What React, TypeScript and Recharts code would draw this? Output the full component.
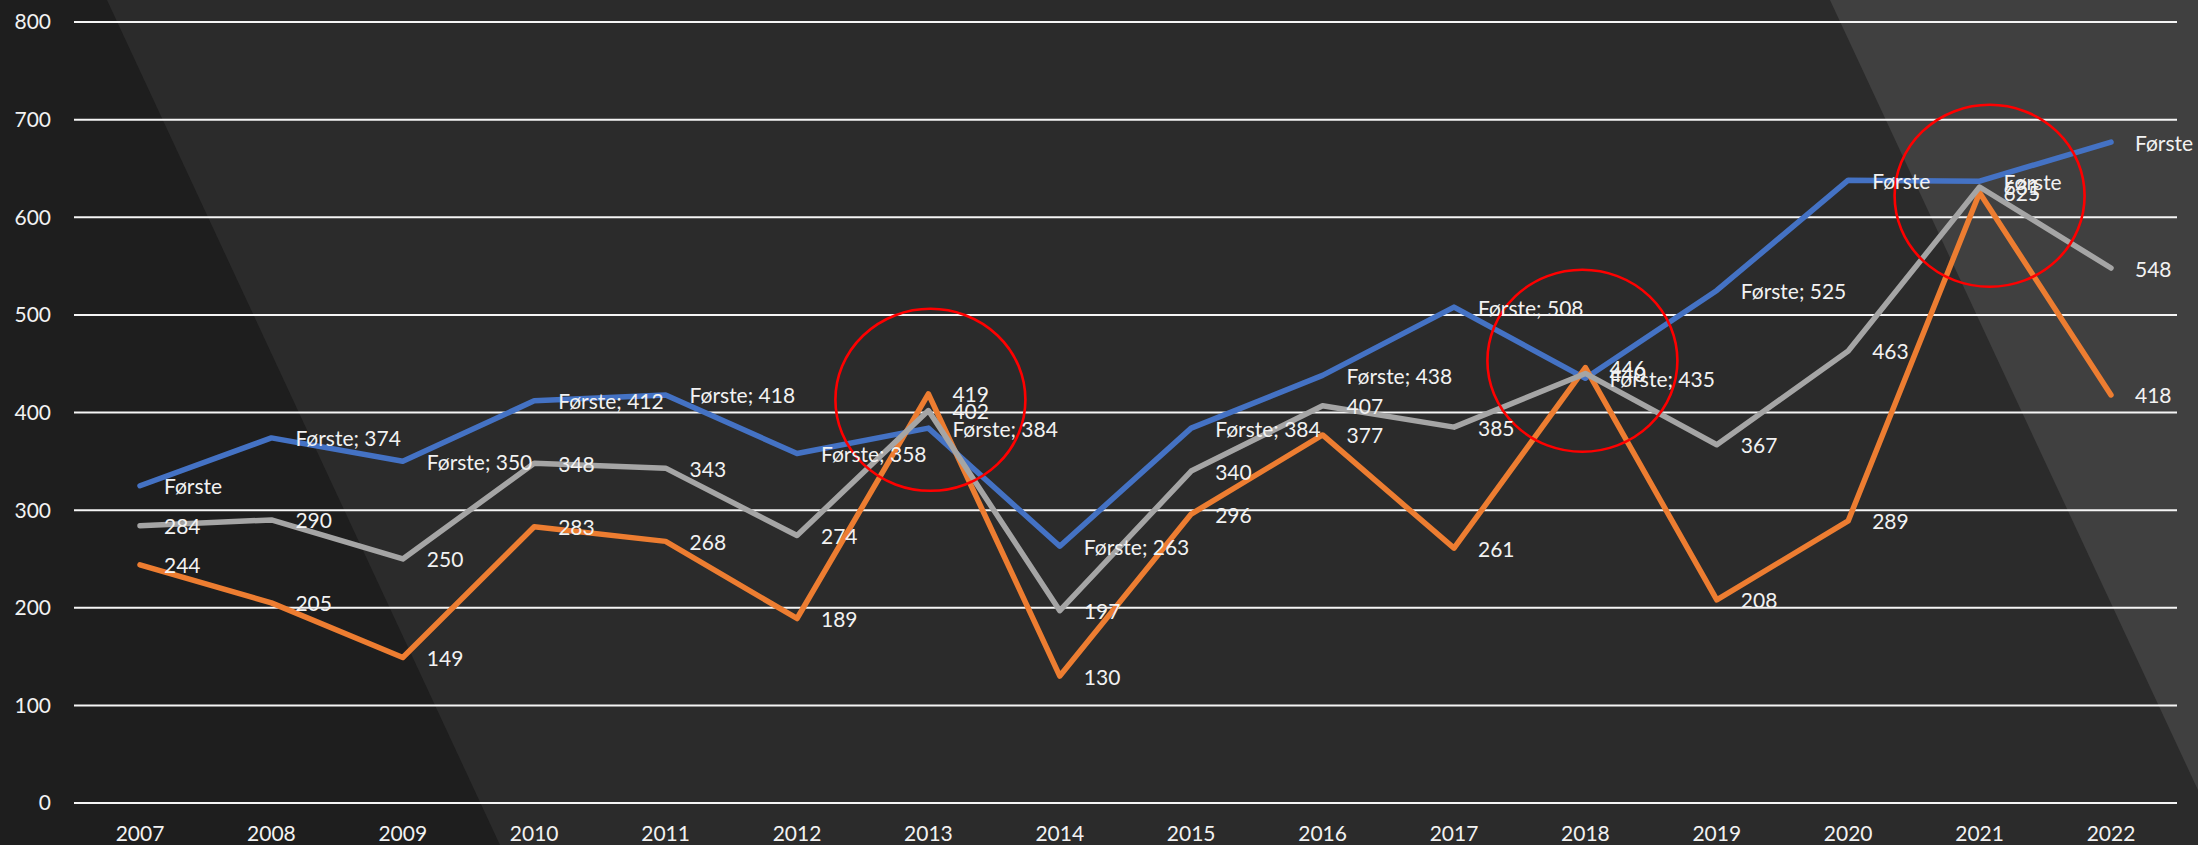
import React from "react";
import {
  LineChart,
  Line,
  XAxis,
  YAxis,
  CartesianGrid,
  LabelList,
  ReferenceDot,
} from "recharts";

const years = [
  "2007", "2008", "2009", "2010", "2011", "2012", "2013", "2014",
  "2015", "2016", "2017", "2018", "2019", "2020", "2021", "2022",
];

const forste = [325, 374, 350, 412, 418, 358, 384, 263, 384, 438, 508, 435, 525, 638, 637, 677];
const orange = [244, 205, 149, 283, 268, 189, 419, 130, 296, 377, 261, 446, 208, 289, 625, 418];
const grey = [284, 290, 250, 348, 343, 274, 402, 197, 340, 407, 385, 440, 367, 463, 631, 548];

// labels of the first series, as they stand in the picture
const forsteLabels = [
  "Første", "Første; 374", "Første; 350", "Første; 412", "Første; 418", "Første; 358",
  "Første; 384", "Første; 263", "Første; 384", "Første; 438", "Første; 508", "Første; 435",
  "Første; 525", "Første", "Første", "Første",
];

const yTicks = [0, 100, 200, 300, 400, 500, 600, 700, 800];

// red circles drawn round some points
const circleYears = ["2013", "2018", "2021"];
const circleValues = [413, 453, 622];
const circleShift = [2, -3, 10];

const data = years.map((year, i) => ({
  year,
  forste: forste[i],
  orange: orange[i],
  grey: grey[i],
  forsteLabel: forsteLabels[i],
}));

const FONT = "Lato, 'Open Sans', sans-serif";
const TEXT = "#f2f2f2";
const LINE_W = 5.5;

const makeLabel = (getText: (index: number, value: any) => string) => (props: any) => {
  const { x, y, index, value } = props;
  if (x == null || y == null) return null;
  return (
    <text
      x={x + 24}
      y={y}
      dominantBaseline="central"
      fill={TEXT}
      fontSize={21}
      fontFamily={FONT}
    >
      {getText(index, value)}
    </text>
  );
};

const Background = () => (
  <svg width={2198} height={845} style={{ position: "absolute", left: 0, top: 0 }}>
    <rect x={0} y={0} width={2198} height={845} fill="#2b2b2b" />
    <polygon points="0,0 107,0 500,845 0,845" fill="#1e1e1e" />
    <polygon points="1830,0 2198,0 2198,790" fill="#404040" />
  </svg>
);

export default function App() {
  return (
    <div
      style={{
        position: "absolute",
        left: 0,
        top: 0,
        width: 2198,
        height: 845,
        overflow: "hidden",
        fontFamily: FONT,
      }}
    >
      <Background />
      <div style={{ position: "absolute", left: 0, top: 0 }}>
        <LineChart
          width={2198}
          height={845}
          data={data}
          margin={{ top: 22, right: 21, left: 0, bottom: 0 }}
        >
          <CartesianGrid vertical={false} stroke="#f5f5f5" strokeWidth={2} />
          <XAxis
            dataKey="year"
            height={42}
            axisLine={false}
            tickLine={false}
            tickMargin={17}
            padding={{ left: 66, right: 66 }}
            tick={{ fill: TEXT, fontSize: 21, fontFamily: FONT }}
            interval={0}
          />
          <YAxis
            width={74}
            domain={[0, 800]}
            ticks={yTicks}
            axisLine={false}
            tickLine={false}
            tickMargin={17}
            tick={{ fill: TEXT, fontSize: 21, fontFamily: FONT }}
          />
          <Line
            dataKey="forste"
            name="Første"
            stroke="#4472c4"
            strokeWidth={LINE_W}
            strokeLinecap="round"
            strokeLinejoin="round"
            dot={false}
            activeDot={false}
            isAnimationActive={false}
          />
          <Line
            dataKey="orange"
            stroke="#ed7d31"
            strokeWidth={LINE_W}
            strokeLinecap="round"
            strokeLinejoin="round"
            dot={false}
            activeDot={false}
            isAnimationActive={false}
          />
          <Line
            dataKey="grey"
            stroke="#a5a5a5"
            strokeWidth={LINE_W}
            strokeLinecap="round"
            strokeLinejoin="round"
            dot={false}
            activeDot={false}
            isAnimationActive={false}
          />
          {/* label-only layers so the texts sit on top of every line */}
          <Line
            dataKey="forste"
            stroke="none"
            dot={false}
            activeDot={false}
            legendType="none"
            isAnimationActive={false}
          >
            <LabelList dataKey="forste" content={makeLabel((i) => forsteLabels[i])} />
          </Line>
          <Line
            dataKey="orange"
            stroke="none"
            dot={false}
            activeDot={false}
            legendType="none"
            isAnimationActive={false}
          >
            <LabelList dataKey="orange" content={makeLabel((_i, v) => String(v))} />
          </Line>
          <Line
            dataKey="grey"
            stroke="none"
            dot={false}
            activeDot={false}
            legendType="none"
            isAnimationActive={false}
          >
            <LabelList dataKey="grey" content={makeLabel((_i, v) => String(v))} />
          </Line>
          {circleYears.map((yr, i) => (
            <ReferenceDot
              key={yr}
              x={yr}
              y={circleValues[i]}
              r={92}
              ifOverflow="visible"
              shape={(p: any) => (
                <ellipse
                  cx={p.cx + circleShift[i]}
                  cy={p.cy}
                  rx={95}
                  ry={91}
                  fill="none"
                  stroke="#ff0000"
                  strokeWidth={2.6}
                />
              )}
            />
          ))}
        </LineChart>
      </div>
    </div>
  );
}
